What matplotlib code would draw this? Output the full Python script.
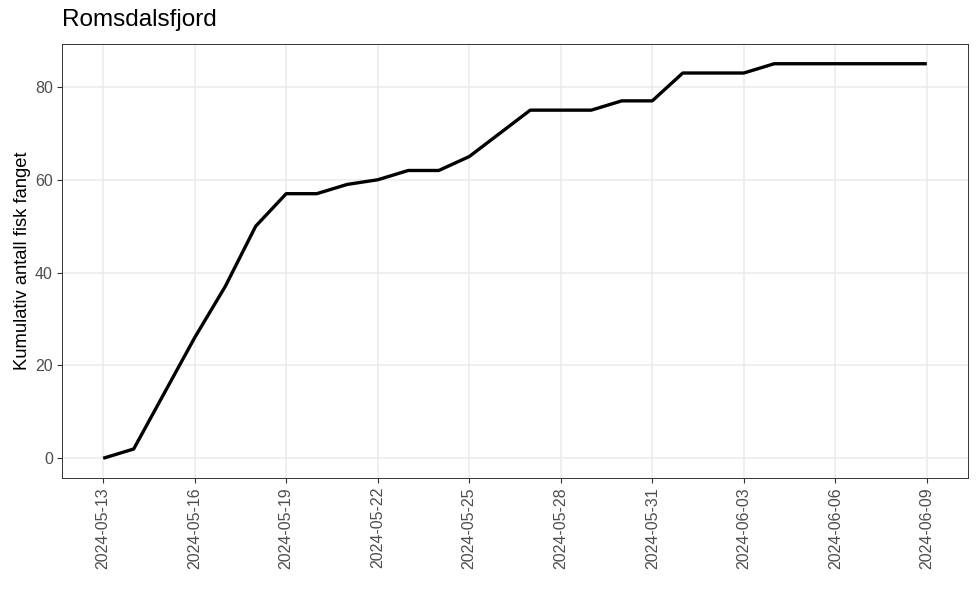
import matplotlib
matplotlib.use("Agg")
import matplotlib.pyplot as plt
import matplotlib.dates as mdates
import pandas as pd

plt.rcParams["font.family"] = ["Liberation Sans", "DejaVu Sans"]

dates = pd.date_range("2024-05-13", "2024-06-09", freq="D")
cum_fish = [0, 2, 14, 26, 37, 50, 57, 57, 59, 60, 62, 62, 65, 70, 75, 75,
            75, 77, 77, 83, 83, 83, 85, 85, 85, 85, 85, 85]
tick_dates = pd.date_range("2024-05-13", "2024-06-09", freq="3D")
y_ticks = [0, 20, 40, 60, 80]

fig = plt.figure(figsize=(9.8, 6.06), dpi=100)
ax = fig.add_axes([62 / 980, 1 - 478 / 606, (968 - 62) / 980, (478 - 44) / 606])

ax.plot(dates, cum_fish, color="black", linewidth=2.4, solid_capstyle="butt")

span = (dates[-1] - dates[0]) * 0.05
ax.set_xlim(dates[0] - span, dates[-1] + span)
ax.set_ylim(-4.25, 89.25)

ax.set_xticks(tick_dates)
ax.xaxis.set_major_formatter(mdates.DateFormatter("%Y-%m-%d"))
ax.set_yticks(y_ticks)

ax.grid(True, color="#EBEBEB", linewidth=1.1)
ax.set_axisbelow(True)
ax.tick_params(length=3.5, width=0.8, color="#333333", labelcolor="#4D4D4D", labelsize=11.5, pad=3)
plt.setp(ax.get_xticklabels(), rotation=90)

for s in ax.spines.values():
    s.set_color("#333333")
    s.set_linewidth(0.7)

ax.set_ylabel("Kumulativ antall fisk fanget", fontsize=13.2, color="black", labelpad=3)
fig.text(62 / 980, 1 - 20 / 606, "Romsdalsfjord", fontsize=17.5, va="center", ha="left")

fig.savefig("out.png", dpi=100)
